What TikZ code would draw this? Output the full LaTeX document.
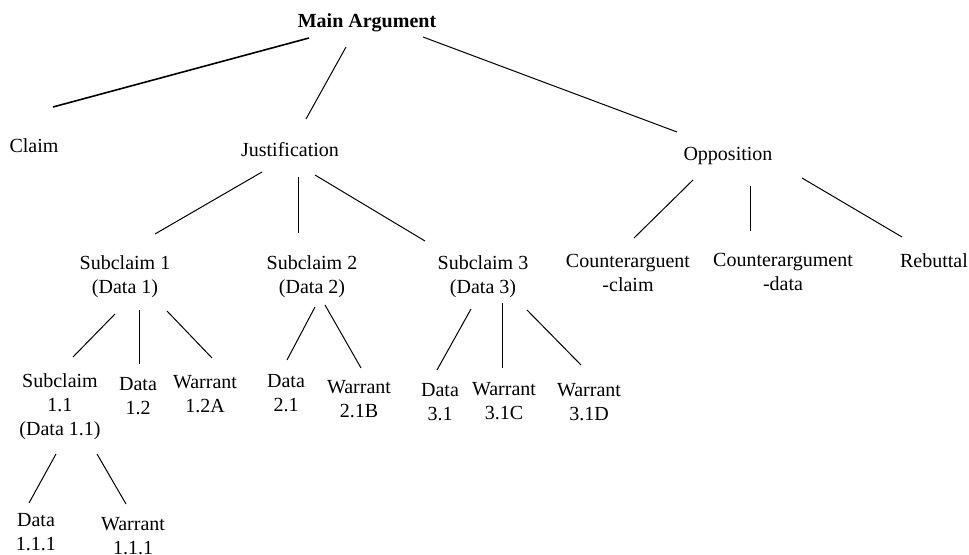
\documentclass[tikz,border=0pt]{standalone}
\usepackage{fontspec}
\setmainfont{Liberation Serif}
\begin{document}
\begin{tikzpicture}[x=0.5pt,y=-0.5pt]
  \tikzset{lbl/.style={align=center,inner sep=0pt,anchor=north,font=\fontsize{10}{12}\selectfont},
    br/.style={line width=0.5pt}}
  \useasboundingbox (0,0) rectangle (969,555);
  \node[lbl] (main) at (367,13) {\textbf{Main Argument}};
  \node[lbl] (claim) at (34,138) {Claim};
  \node[lbl] (just) at (290,142) {Justification};
  \node[lbl] (opp) at (728,147) {Opposition};
  \node[lbl] (sc1) at (125,255) {Subclaim 1\\(Data 1)};
  \node[lbl] (sc2) at (312,255) {Subclaim 2\\(Data 2)};
  \node[lbl] (sc3) at (483,255) {Subclaim 3\\(Data 3)};
  \node[lbl] (ca1) at (628,254) {Counterarguent\\-claim};
  \node[lbl] (ca2) at (783,253) {Counterargument\\-data};
  \node[lbl] (reb) at (934,253) {Rebuttal};
  \node[lbl] (sc11) at (60,373) {Subclaim\\1.1\\(Data 1.1)};
  \node[lbl] (d12) at (138,377) {Data\\1.2};
  \node[lbl] (w12a) at (205,375) {Warrant\\1.2A};
  \node[lbl] (d21) at (286,374) {Data\\2.1};
  \node[lbl] (w21b) at (359,380) {Warrant\\2.1B};
  \node[lbl] (d31) at (440,383) {Data\\3.1};
  \node[lbl] (w31c) at (504,382) {Warrant\\3.1C};
  \node[lbl] (w31d) at (589,383) {Warrant\\3.1D};
  \node[lbl] (d111) at (36,513) {Data\\1.1.1};
  \node[lbl] (w111) at (133,517) {Warrant\\1.1.1};
  % top level
  \draw[line width=0.8pt] ([shift={(-58,25)}]main.north) -- ([shift={(19,-31)}]claim.north);
  \draw[br] ([shift={(-21,34)}]main.north) -- ([shift={(16,-23)}]just.north);
  \draw[br] ([shift={(56,24)}]main.north) -- ([shift={(-51,-15)}]opp.north);
  % justification
  \draw[br] ([shift={(-28,30)}]just.north) -- ([shift={(30,-21)}]sc1.north);
  \draw[br] ([shift={(8,35)}]just.north) -- ([shift={(-14,-22)}]sc2.north);
  \draw[br] ([shift={(25,33)}]just.north) -- ([shift={(-58,-14)}]sc3.north);
  % opposition
  \draw[br] ([shift={(-35,33)}]opp.north) -- ([shift={(6,-16)}]ca1.north);
  \draw[br] ([shift={(22,39)}]opp.north) -- ([shift={(-33,-22)}]ca2.north);
  \draw[br] ([shift={(74,31)}]opp.north) -- ([shift={(-32,-16)}]reb.north);
  % subclaims
  \draw[br] ([shift={(-10,59)}]sc1.north) -- ([shift={(13,-16)}]sc11.north);
  \draw[br] ([shift={(14,55)}]sc1.north) -- ([shift={(1,-13)}]d12.north);
  \draw[br] ([shift={(42,56)}]sc1.north) -- ([shift={(7,-17)}]w12a.north);
  \draw[br] ([shift={(3,52)}]sc2.north) -- ([shift={(1,-14)}]d21.north);
  \draw[br] ([shift={(13,50)}]sc2.north) -- ([shift={(2,-12)}]w21b.north);
  \draw[br] ([shift={(-12,54)}]sc3.north) -- ([shift={(-3,-13)}]d31.north);
  \draw[br] ([shift={(19,48)}]sc3.north) -- ([shift={(-2,-14)}]w31c.north);
  \draw[br] ([shift={(44,55)}]sc3.north) -- ([shift={(-8,-18)}]w31d.north);
  \draw[br] ([shift={(-4,81)}]sc11.north) -- ([shift={(-7,-10)}]d111.north);
  \draw[br] ([shift={(37,81)}]sc11.north) -- ([shift={(-7,-13)}]w111.north);
\end{tikzpicture}
\end{document}
